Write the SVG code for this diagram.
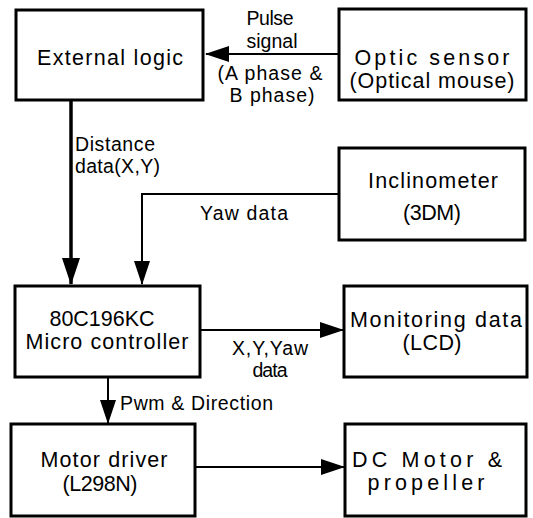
<svg xmlns="http://www.w3.org/2000/svg" width="533" height="518" viewBox="0 0 533 518">
<style>
  .box { fill: #ffffff; stroke: #000000; stroke-width: 3; }
  .bl { font-family: "Liberation Sans", Arial, sans-serif; font-size: 21.5px; fill: #000000; text-anchor: middle; }
  .cl { font-family: "Liberation Sans", Arial, sans-serif; font-size: 19.5px; fill: #000000; }
  .mid { text-anchor: middle; }
  .ln { fill: none; stroke: #000000; stroke-width: 2; }
  .thick { stroke-width: 3.5; }
</style>
<defs>
  <marker id="ah" markerUnits="userSpaceOnUse" markerWidth="26" markerHeight="18" refX="23" refY="8" orient="auto">
    <path d="M0,0 L24,8 L0,16 Z" fill="#000000"/>
  </marker>
  <marker id="ahb" markerUnits="userSpaceOnUse" markerWidth="30" markerHeight="20" refX="26" refY="9" orient="auto">
    <path d="M0,0 L27,9 L0,18 Z" fill="#000000"/>
  </marker>
</defs>
<rect width="533" height="518" fill="#ffffff"/>

<g id="connectors">
  <line class="ln" x1="339" y1="54" x2="206" y2="54" marker-end="url(#ah)"/>
  <line class="ln thick" x1="71" y1="101" x2="71" y2="284" marker-end="url(#ahb)"/>
  <polyline class="ln" points="339,194 142,194 142,284" marker-end="url(#ah)"/>
  <line class="ln" x1="200" y1="330" x2="343" y2="330" marker-end="url(#ah)"/>
  <line class="ln" x1="108" y1="377" x2="108" y2="423" marker-end="url(#ah)"/>
  <line class="ln" x1="196" y1="467" x2="344" y2="467" marker-end="url(#ah)"/>
  <text class="cl mid" x="270" y="25" textLength="47">Pulse</text>
  <text class="cl mid" x="272" y="48" textLength="51">signal</text>
  <text class="cl mid" x="270" y="80" textLength="105">(A phase &amp;</text>
  <text class="cl mid" x="272" y="102" textLength="85">B phase)</text>
  <text class="cl" x="75" y="151" textLength="80">Distance</text>
  <text class="cl" x="75" y="173" textLength="85">data(X,Y)</text>
  <text class="cl" x="200" y="220" textLength="88">Yaw data</text>
  <text class="cl mid" x="270" y="355" textLength="76">X,Y,Yaw</text>
  <text class="cl mid" x="270" y="377" textLength="35">data</text>
  <text class="cl" x="120" y="410" textLength="153">Pwm &amp; Direction</text>
</g>

<g id="external-logic">
  <rect class="box" x="16" y="10" width="187" height="90"/>
  <text class="bl" x="110" y="65" textLength="146">External logic</text>
</g>

<g id="optic-sensor">
  <rect class="box" x="339" y="9" width="187" height="91"/>
  <text class="bl" x="432" y="65" textLength="155">Optic sensor</text>
  <text class="bl" x="432" y="88" textLength="165">(Optical mouse)</text>
</g>

<g id="inclinometer">
  <rect class="box" x="339" y="148" width="186" height="92"/>
  <text class="bl" x="433" y="188" textLength="130">Inclinometer</text>
  <text class="bl" x="432" y="220" textLength="58">(3DM)</text>
</g>

<g id="micro-controller">
  <rect class="box" x="15" y="286" width="185" height="91"/>
  <text class="bl" x="102" y="326" textLength="105">80C196KC</text>
  <text class="bl" x="107" y="349" textLength="163">Micro controller</text>
</g>

<g id="monitoring-data">
  <rect class="box" x="344" y="286" width="183" height="91"/>
  <text class="bl" x="436" y="327" textLength="172">Monitoring data</text>
  <text class="bl" x="432" y="350" textLength="59">(LCD)</text>
</g>

<g id="motor-driver">
  <rect class="box" x="11" y="424" width="184" height="92"/>
  <text class="bl" x="104" y="467" textLength="127">Motor driver</text>
  <text class="bl" x="100" y="491" textLength="75">(L298N)</text>
</g>

<g id="dc-motor">
  <rect class="box" x="345" y="424" width="181" height="92"/>
  <text class="bl" x="427" y="467" textLength="150">DC Motor &amp;</text>
  <text class="bl" x="426" y="490" textLength="117">propeller</text>
</g>
</svg>
